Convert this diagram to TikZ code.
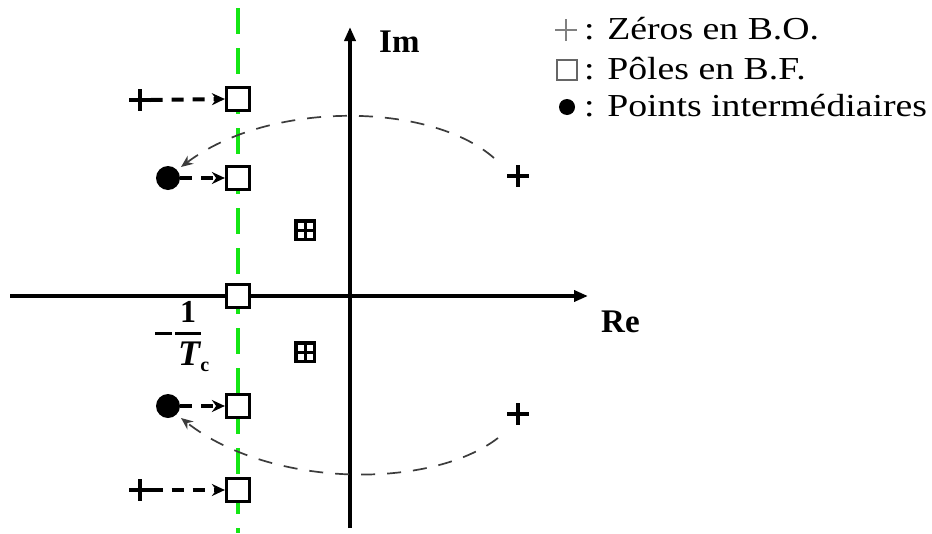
\documentclass[tikz,border=0pt]{standalone}
\usepackage{fontspec}
\setmainfont{Liberation Serif}
\newfontfamily\legfont[FakeStretch=1.18]{Liberation Serif}
\usetikzlibrary{arrows.meta}
\definecolor{axgreen}{RGB}{20,230,20}
\definecolor{curvegray}{RGB}{60,60,60}
\newcommand\legsize{\fontsize{32}{34}\selectfont}
\newcommand\axsize{\fontsize{33}{35}\selectfont}
\newcommand\numsize{\fontsize{32}{34}\selectfont}
\newcommand\tcsize{\fontsize{36}{38}\selectfont}
\newcommand\subsize{\fontsize{20}{22}\selectfont}
\begin{document}
\begin{tikzpicture}[x=1pt,y=-1pt,
  axis/.style={line width=4pt, -{Triangle[length=14pt,width=11pt]}},
  greenline/.style={axgreen, line width=4pt, dash pattern=on 26pt off 14pt},
  pole/.style={draw=black, line width=3.2pt, fill=white, minimum size=23pt, inner sep=0pt},
  zeromark/.style={minimum size=21pt, inner sep=0pt},
  dotmark/.style={circle, fill=black, minimum size=24pt, inner sep=0pt},
  movearrow/.style={line width=4pt, dash pattern=on 12pt off 9pt, -{Stealth[length=13pt,width=12pt]}},
  locus/.style={curvegray, line width=1.7pt, dash pattern=on 14pt off 12pt, -{Stealth[length=12pt,width=10pt]}},
  crossbox/.style={fill=black, minimum size=22pt, inner sep=0pt,
    path picture={
      \fill[white] ([shift={(-7.5pt,-7.5pt)}]path picture bounding box.center) rectangle ([shift={(-1.5pt,-1.5pt)}]path picture bounding box.center);
      \fill[white] ([shift={(1.5pt,-7.5pt)}]path picture bounding box.center) rectangle ([shift={(7.5pt,-1.5pt)}]path picture bounding box.center);
      \fill[white] ([shift={(-7.5pt,1.5pt)}]path picture bounding box.center) rectangle ([shift={(-1.5pt,7.5pt)}]path picture bounding box.center);
      \fill[white] ([shift={(1.5pt,1.5pt)}]path picture bounding box.center) rectangle ([shift={(7.5pt,7.5pt)}]path picture bounding box.center);
    }},
  legtext/.style={anchor=base west, inner sep=0pt, font=\legfont\legsize},
  axlabel/.style={anchor=base west, inner sep=0pt, font=\bfseries\axsize},
  fracbar/.style={line width=3pt}
]
\useasboundingbox[fill=white] (0,0) rectangle (932,533);

% green dashed line
\coordinate (gtop) at (238,8);
\coordinate (gbot) at (238,533);
\draw[greenline] (gtop) -- (gbot);

% axes
\coordinate (xl) at (10,296);
\coordinate (xr) at (588,296);
\coordinate (yb) at (350,528);
\coordinate (yt) at (350,27);
\draw[axis] (xl) -- (xr);
\draw[axis] (yb) -- (yt);
\node[axlabel] (im) at (379,52) {Im};
\node[axlabel] (re) at (601,332) {Re};

% closed loop poles
\node[pole] (p1) at (238,99) {};
\node[pole] (p2) at (238,178) {};
\node[pole] (p3) at (238,296) {};
\node[pole] (p4) at (238,406) {};
\node[pole] (p5) at (238,490) {};

% zeros
\node[zeromark] (z1) at (140,100) {};
\node[zeromark] (z2) at (518,176) {};
\node[zeromark] (z3) at (518,414) {};
\node[zeromark] (z4) at (140,490) {};
\foreach \z in {z1,z2,z3,z4}{
  \draw[line width=4pt] (\z.north) -- (\z.south) (\z.west) -- (\z.east);
}

% intermediate points
\node[dotmark] (d1) at (168,178) {};
\node[dotmark] (d2) at (168,406) {};

% moving arrows
\draw[movearrow] (z1.east) -- (p1.west);
\draw[movearrow] (d1.east) -- (p2.west);
\draw[movearrow] (d2.east) -- (p4.west);
\draw[movearrow] (z4.east) -- (p5.west);

% loci
\coordinate (l1s) at (494,158);
\coordinate (l2s) at (498,438);
\coordinate (l1e) at (181,167);
\coordinate (l2e) at (181,418);
\draw[locus] (l1s) .. controls (430,102) and (270,100) .. (l1e);
\draw[locus] (l2s) .. controls (430,490) and (270,488) .. (l2e);

% double poles
\node[crossbox] (c1) at (305,230) {};
\node[crossbox] (c2) at (305,352) {};

% label -1/Tc
\coordinate (m1) at (155,333);
\coordinate (m2) at (172,333);
\coordinate (f1) at (175,333);
\coordinate (f2) at (201,333);
\draw[fracbar] (m1) -- (m2);
\draw[fracbar] (f1) -- (f2);
\node[anchor=base, inner sep=0pt, font=\bfseries\numsize] (num) at (188,322) {1};
\node[anchor=base, inner sep=0pt, font=\bfseries\itshape\tcsize] (den) at (189,365) {T};
\node[anchor=base west, inner sep=0pt, font=\bfseries\subsize, yshift=-6pt] (sub) at (den.base east) {c};

% legend
\node[zeromark] (lz) at (566,30) {};
\draw[gray, line width=1.8pt] (lz.north) -- (lz.south) (lz.west) -- (lz.east);
\node[draw=gray!80!black, line width=2pt, minimum size=20pt, inner sep=0pt] (lp) at (567,70) {};
\node[circle, fill=black, minimum size=16pt, inner sep=0pt] (ld) at (567,107) {};
\node[legtext] (t1) at (584,39) {: Zéros en B.O.};
\node[legtext] (t2) at (584,79) {: Pôles en B.F.};
\node[legtext] (t3) at (584,116) {: Points intermédiaires};
\end{tikzpicture}
\end{document}
